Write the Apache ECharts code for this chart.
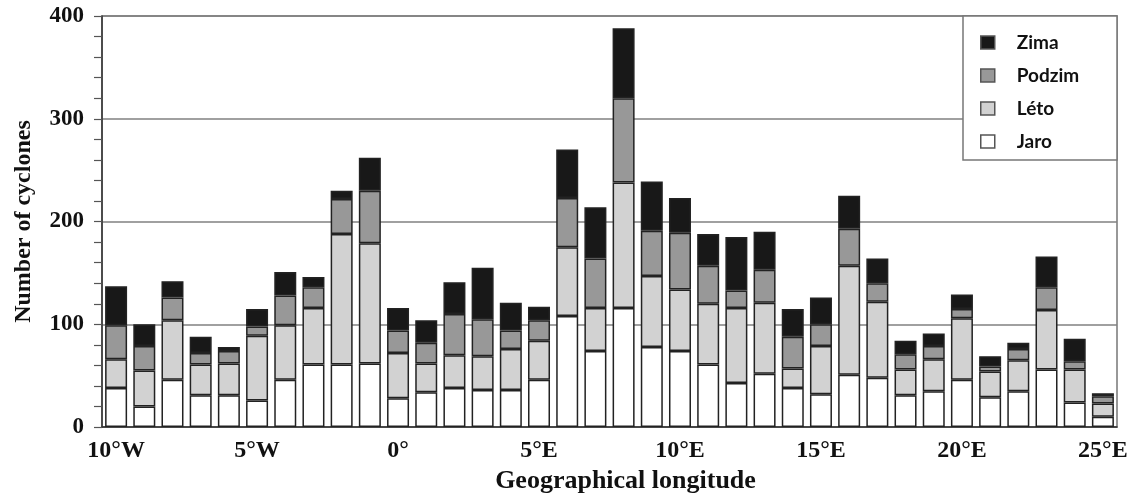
<!DOCTYPE html>
<html>
<head>
<meta charset="utf-8">
<title>Number of cyclones</title>
<script src="https://cdn.jsdelivr.net/npm/echarts@6/dist/echarts.min.js"></script>
<style>
  html, body { margin: 0; padding: 0; background: #fff; }
  #chart { width: 1136px; height: 499px; }
</style>
</head>
<body>
<div id="chart"></div>
<script>
// longitudes from 10°W to 25°E, one bar per degree
const longitudes = [
  '10°W', '9°W', '8°W', '7°W', '6°W', '5°W', '4°W', '3°W', '2°W', '1°W',
  '0°', '1°E', '2°E', '3°E', '4°E', '5°E', '6°E', '7°E', '8°E', '9°E',
  '10°E', '11°E', '12°E', '13°E', '14°E', '15°E', '16°E', '17°E', '18°E', '19°E',
  '20°E', '21°E', '22°E', '23°E', '24°E', '25°E'
]

// season counts (stacked bottom to top)
const jaro = [38, 20, 46, 31, 31, 26, 46, 61, 61, 62, 28, 34, 38, 36, 36, 46, 108, 74, 116, 78, 74, 61, 43, 52, 38, 32, 51, 48, 31, 35, 46, 29, 35, 56, 24, 10]
const leto = [28, 35, 58, 30, 31, 63, 53, 55, 127, 117, 44, 28, 32, 33, 40, 38, 67, 42, 122, 69, 60, 59, 73, 69, 19, 47, 106, 74, 25, 31, 60, 25, 30, 58, 32, 13]
const podzim = [33, 24, 22, 11, 12, 9, 29, 20, 34, 51, 22, 20, 40, 36, 18, 20, 48, 48, 82, 44, 55, 37, 17, 32, 31, 21, 36, 18, 15, 13, 9, 5, 11, 22, 8, 7]
const zima = [38, 21, 16, 16, 4, 17, 23, 10, 8, 32, 22, 22, 31, 50, 27, 13, 47, 50, 68, 48, 34, 31, 52, 37, 27, 26, 32, 24, 13, 12, 14, 10, 6, 30, 22, 3]

const legendOrder = ['Zima', 'Podzim', 'Léto', 'Jaro']

const serif = '"Liberation Serif", "Times New Roman", serif'

const chart = echarts.init(document.getElementById('chart'))

function seasonSeries(name, data, color) {
  return {
    name: name,
    type: 'bar',
    stack: 'total',
    barWidth: 22,
    data: data,
    itemStyle: {
      color: color,
      borderColor: '#222',
      borderWidth: 1.5
    }
  }
}

const option = {
  animation: false,
  backgroundColor: '#fff',
  grid: {
    left: 102,
    right: 19,
    top: 16,
    bottom: 67,
    show: true,
    borderColor: '#777',
    borderWidth: 1.5
  },
  graphic: [
    {
      type: 'rect',
      z: 10,
      shape: { x: 963, y: 16, width: 154, height: 144 },
      style: { fill: '#fff', stroke: '#777', lineWidth: 1.5 }
    }
  ],
  legend: {
    z: 20,
    orient: 'vertical',
    left: 975,
    top: 28,
    icon: 'rect',
    itemWidth: 14,
    itemHeight: 13,
    itemGap: 14,
    data: legendOrder,
    itemStyle: { borderColor: '#555', borderWidth: 1.5 },
    textStyle: {
      fontFamily: 'Lato, "Open Sans", sans-serif',
      fontWeight: 'bold',
      fontSize: 19,
      lineHeight: 16,
      color: '#111',
      padding: [0, 0, 0, 17]
    }
  },
  xAxis: {
    type: 'category',
    data: longitudes,
    name: 'Geographical longitude',
    nameLocation: 'middle',
    nameGap: 38,
    nameTextStyle: {
      fontFamily: serif,
      fontWeight: 'bold',
      fontSize: 26,
      color: '#111',
      padding: [0, 0, 0, 32]
    },
    axisLine: { lineStyle: { color: '#333', width: 1.5 } },
    axisTick: { length: 6, lineStyle: { color: '#333', width: 1.2 } },
    axisLabel: {
      interval: 4,
      margin: 12,
      fontFamily: serif,
      fontWeight: 'bold',
      fontSize: 24,
      color: '#111'
    },
    splitLine: { show: false }
  },
  yAxis: {
    type: 'value',
    min: 0,
    max: 400,
    interval: 100,
    name: 'Number of cyclones',
    nameLocation: 'middle',
    nameGap: 66,
    nameTextStyle: {
      fontFamily: serif,
      fontWeight: 'bold',
      fontSize: 24,
      color: '#111'
    },
    axisLine: { show: true, lineStyle: { color: '#333', width: 1.5 } },
    axisTick: { show: true, length: 8, lineStyle: { color: '#555', width: 1.2 } },
    minorTick: { show: true, splitNumber: 5, length: 8, lineStyle: { color: '#555', width: 1.2 } },
    axisLabel: {
      margin: 18,
      fontFamily: serif,
      fontWeight: 'bold',
      fontSize: 23,
      color: '#111'
    },
    splitLine: { lineStyle: { color: '#808080', width: 1.5 } }
  },
  series: [
    seasonSeries('Jaro', jaro, '#ffffff'),
    seasonSeries('Léto', leto, '#d2d2d2'),
    seasonSeries('Podzim', podzim, '#989898'),
    seasonSeries('Zima', zima, '#181818')
  ]
}

chart.setOption(option)
</script>
</body>
</html>
